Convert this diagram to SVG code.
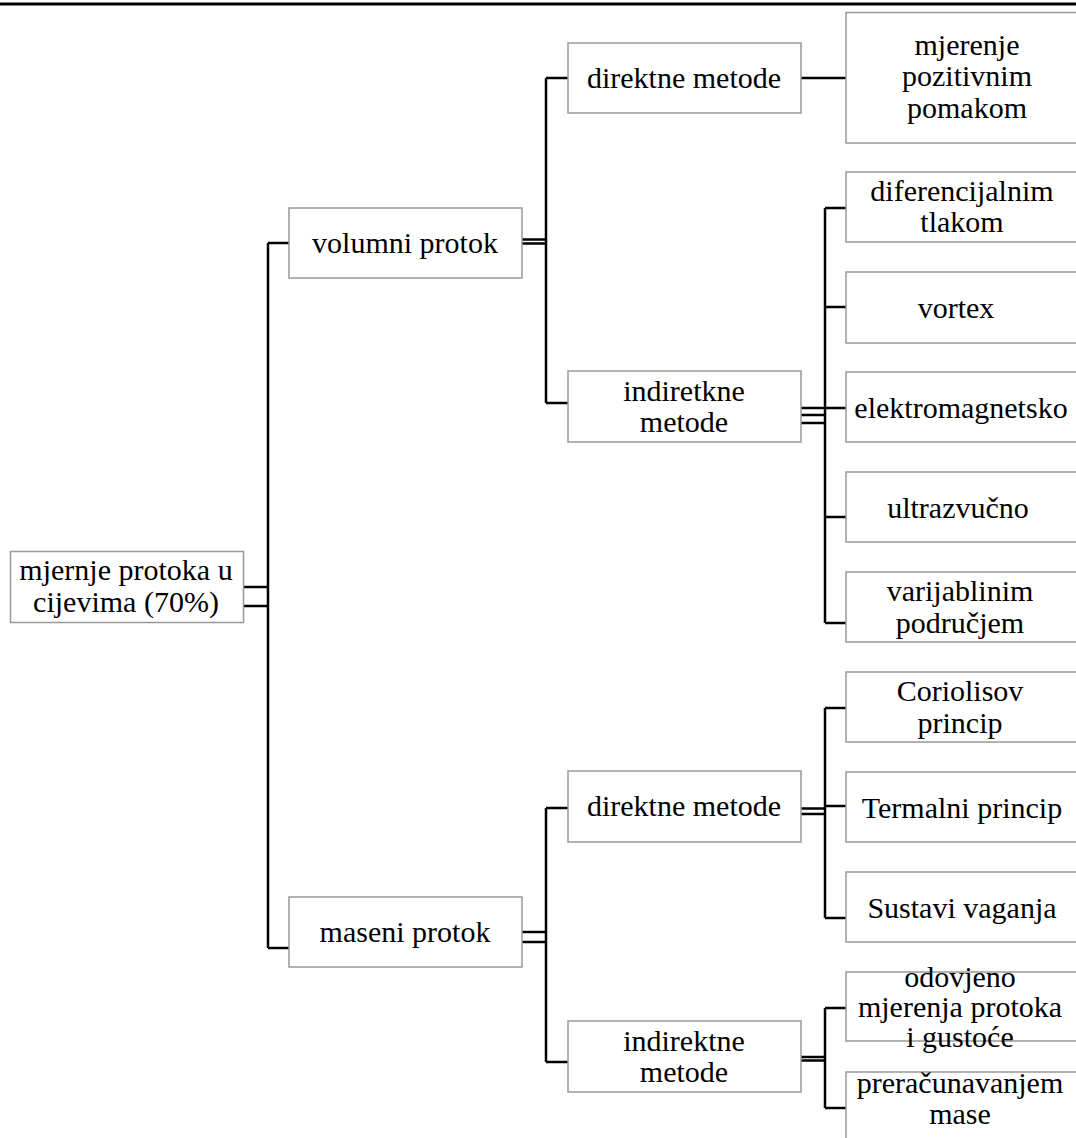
<svg xmlns="http://www.w3.org/2000/svg" width="1076" height="1138" viewBox="0 0 1076 1138">
<style>
.box{fill:#fff;stroke:#999;stroke-width:1.5}
text{font-family:'Liberation Serif','Times New Roman','DejaVu Serif',serif;font-size:30px;fill:#000;text-anchor:middle}
.c{stroke:#000;stroke-width:2.5;fill:none}
</style>
<rect x="0" y="2.5" width="1076" height="3" fill="#000"/>
<g id="connectors">
<path class="c" d="M243 587H268M243 606H268M268 243V948M268 243H289M268 948H289"/>
<path class="c" d="M522 239.5H546M522 243.5H546M546 78V403M546 78H568M546 403H568"/>
<path class="c" d="M522 932H546M522 942H546M546 808V1062M546 808H568M546 1062H568"/>
<path class="c" d="M801 78H846"/>
<path class="c" d="M801 408H825M801 415H825M801 423H825M825 208V623M825 208H846M825 307H846M825 408H846M825 517H846M825 623H846"/>
<path class="c" d="M801 808.5H825M801 814H825M825 708V918M825 708H846M825 806H846M825 918H846"/>
<path class="c" d="M801 1057H825M801 1060.5H825M825 1008V1108M825 1008H846M825 1108H846"/>
</g>
<g font-family="Liberation Serif, Times New Roman, DejaVu Serif, serif">
<g id="root"><rect class="box" x="10.5" y="551.5" width="233" height="71"/><text x="126" y="580">mjernje protoka u</text><text x="126" y="612">cijevima (70%)</text></g>
<g id="volumni"><rect class="box" x="289" y="208" width="233" height="70"/><text x="405" y="253">volumni protok</text></g>
<g id="maseni"><rect class="box" x="289" y="897" width="233" height="70"/><text x="405" y="942">maseni protok</text></g>
<g id="dir1"><rect class="box" x="568" y="43" width="233" height="70"/><text x="684" y="88">direktne metode</text></g>
<g id="ind1"><rect class="box" x="568" y="371" width="233" height="71"/><text x="684" y="401">indiretkne</text><text x="684" y="432">metode</text></g>
<g id="dir2"><rect class="box" x="568" y="771" width="233" height="71"/><text x="684" y="816">direktne metode</text></g>
<g id="ind2"><rect class="box" x="568" y="1021" width="233" height="71"/><text x="684" y="1051">indirektne</text><text x="684" y="1082">metode</text></g>
<g id="pozitivni"><rect class="box" x="846" y="12.5" width="244" height="130.5"/><text x="967" y="54.5">mjerenje</text><text x="967" y="86">pozitivnim</text><text x="967" y="117.5">pomakom</text></g>
<g id="diferencijalni"><rect class="box" x="846" y="172" width="232" height="70"/><text x="962" y="201">diferencijalnim</text><text x="962" y="232">tlakom</text></g>
<g id="vortex"><rect class="box" x="846" y="272" width="232" height="71"/><text x="956" y="318">vortex</text></g>
<g id="elektro"><rect class="box" x="846" y="372" width="232" height="70"/><text x="961" y="418">elektromagnetsko</text></g>
<g id="ultra"><rect class="box" x="846" y="472" width="232" height="70"/><text x="958" y="518">ultrazvučno</text></g>
<g id="varijabilni"><rect class="box" x="846" y="572" width="232" height="70"/><text x="960" y="601">varijablinim</text><text x="960" y="633">područjem</text></g>
<g id="coriolis"><rect class="box" x="846" y="672" width="232" height="70"/><text x="960" y="701">Coriolisov</text><text x="960" y="733">princip</text></g>
<g id="termalni"><rect class="box" x="846" y="772" width="232" height="70"/><text x="962" y="818">Termalni princip</text></g>
<g id="vaganje"><rect class="box" x="846" y="872" width="232" height="70"/><text x="962" y="918">Sustavi vaganja</text></g>
<g id="odvojeno"><rect class="box" x="846" y="972" width="232" height="69"/><text x="960" y="987">odovjeno</text><text x="960" y="1017">mjerenja protoka</text><text x="960" y="1047">i gustoće</text></g>
<g id="preracunavanje"><rect class="box" x="846" y="1072" width="232" height="80"/><text x="960" y="1093">preračunavanjem</text><text x="960" y="1124">mase</text></g>
</g>
</svg>
